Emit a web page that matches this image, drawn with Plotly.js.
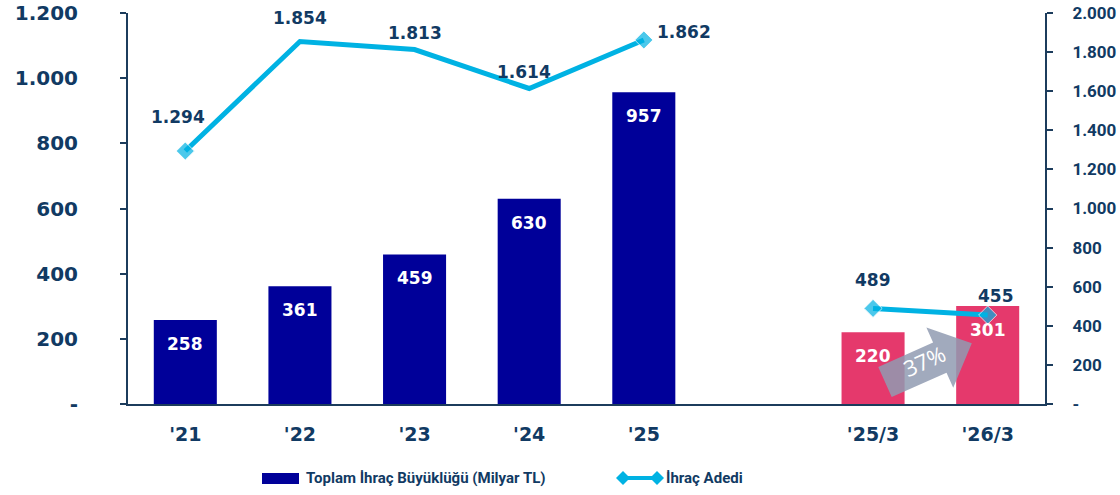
<!DOCTYPE html>
<html>
<head>
<meta charset="utf-8">
<script src="https://cdn.plot.ly/plotly-3.0.1.min.js"></script>
<style>html,body{margin:0;padding:0;background:#fff;}#chart{width:1120px;height:495px;}</style>
</head>
<body>
<div id="chart"></div>
<script>
// ---- data ----
var categories = ["'21", "'22", "'23", "'24", "'25", " ", "'25/3", "'26/3"];
var totalSize = [258, 361, 459, 630, 957, null, 220, 301];      // Toplam İhraç Büyüklüğü (Milyar TL)
var issueCount = [1294, 1854, 1813, 1614, 1862, null, 489, 455]; // İhraç Adedi
var leftTickVals = [0, 200, 400, 600, 800, 1000, 1200];
var leftTickText = ["-", "200", "400", "600", "800", "1.000", "1.200"];
var rightTickVals = [0, 200, 400, 600, 800, 1000, 1200, 1400, 1600, 1800, 2000];
var rightTickText = ["-", "200", "400", "600", "800", "1.000", "1.200", "1.400", "1.600", "1.800", "2.000"];
var growthText = "37%";
var legendNames = ["Toplam İhraç Büyüklüğü (Milyar TL)", "İhraç Adedi"];

// ---- styles ----
var NAVY_TEXT = "#113a63";
var AXIS = "#1c3c5c";
var BAR_NAVY = "#000099";
var BAR_PINK = "#e5396c";
var CYAN = "#00b2e3";
var CAL = "Roboto, 'Noto Sans', sans-serif";
var barColors = [BAR_NAVY, BAR_NAVY, BAR_NAVY, BAR_NAVY, BAR_NAVY, BAR_NAVY, BAR_PINK, BAR_PINK];
var markerSizes = [14, 0, 0, 0, 14, 0, 14, 14];
// label offsets (px) for the line labels: [xshift, yshift]
var lineLabelShift = [[-7, 34], [0, 24], [0, 17], [-5, 16], [40, 8], [0, 0], [0, 28], [8, 19]];

var W = 1120, H = 495;
var M = {l: 128, r: 75, t: 13, b: 91};
var PW = W - M.l - M.r, PH = H - M.t - M.b;
function px(x) { return (x - M.l) / PW; }
function py(y) { return (M.t + PH - y) / PH; }
function fmt(v) { return v >= 1000 ? Math.floor(v / 1000) + "." + String(v % 1000).padStart(3, "0") : String(v); }

var bars = {
  type: "bar", x: categories, y: totalSize, name: legendNames[0],
  marker: {color: barColors}, width: 0.55, yaxis: "y", hoverinfo: "x+y", showlegend: false
};
var line = {
  type: "scatter", mode: "lines+markers", x: categories, y: issueCount, name: legendNames[1],
  yaxis: "y2", connectgaps: false,
  line: {color: CYAN, width: 5},
  marker: {symbol: "diamond", size: markerSizes, color: CYAN}, showlegend: false
};

var annotations = [];
categories.forEach(function (c, i) {
  if (totalSize[i] != null) {
    annotations.push({
      x: c, y: totalSize[i], xref: "x", yref: "y", yanchor: "top", yshift: -12,
      text: String(totalSize[i]), showarrow: false,
      font: {family: "DejaVu Sans, Verdana, sans-serif", size: 17, color: "#ffffff", weight: "bold"}
    });
  }
  if (issueCount[i] != null) {
    annotations.push({
      x: c, y: issueCount[i], xref: "x", yref: "y2", yanchor: "middle",
      xshift: lineLabelShift[i][0], yshift: lineLabelShift[i][1],
      text: fmt(issueCount[i]), showarrow: false,
      font: {family: "DejaVu Sans, Verdana, sans-serif", size: 17, color: NAVY_TEXT, weight: "bold"}
    });
  }
});

// growth arrow (drawn in pixel space, converted to paper coords)
var ang = -24 * Math.PI / 180;
var ux = Math.cos(ang), uy = Math.sin(ang), vx = -uy, vy = ux;
var T = [885, 382];
var local = [[0, -16.5], [60, -16.5], [60, -33], [95, 0], [60, 33], [60, 16.5], [0, 16.5]];
var arrowPath = local.map(function (p, k) {
  var X = T[0] + p[0] * ux + p[1] * vx, Y = T[1] + p[0] * uy + p[1] * vy;
  return (k === 0 ? "M" : "L") + px(X).toFixed(5) + "," + py(Y).toFixed(5);
}).join(" ") + " Z";

var shapes = [{
  type: "path", xref: "paper", yref: "paper", path: arrowPath,
  fillcolor: "rgba(145,155,178,0.85)", line: {width: 0}, layer: "above",
  label: {text: growthText, textangle: -24, textposition: "middle center",
    font: {family: "Open Sans, sans-serif", size: 22, color: "#ffffff"}}
}];

// custom legend
shapes.push({type: "rect", xref: "paper", yref: "paper", x0: px(262), x1: px(299), y0: py(484), y1: py(473),
  fillcolor: BAR_NAVY, line: {width: 0}});
shapes.push({type: "line", xref: "paper", yref: "paper", x0: px(623), x1: px(657), y0: py(478), y1: py(478),
  line: {color: CYAN, width: 4}});
[623, 657].forEach(function (cx) {
  var d = 7;
  shapes.push({type: "path", xref: "paper", yref: "paper",
    path: "M" + px(cx - d) + "," + py(478) + " L" + px(cx) + "," + py(478 - d) + " L" + px(cx + d) + "," + py(478) + " L" + px(cx) + "," + py(478 + d) + " Z",
    fillcolor: CYAN, line: {width: 0}});
});
annotations.push({xref: "paper", yref: "paper", x: px(304), y: py(478), xanchor: "left", yanchor: "middle",
  text: legendNames[0], showarrow: false, font: {family: CAL, size: 15, color: NAVY_TEXT, weight: "bold"}});
annotations.push({xref: "paper", yref: "paper", x: px(664), y: py(478), xanchor: "left", yanchor: "middle",
  text: legendNames[1], showarrow: false, font: {family: CAL, size: 15, color: NAVY_TEXT, weight: "bold"}});

var layout = {
  width: W, height: H, margin: M, paper_bgcolor: "#fff", plot_bgcolor: "#fff",
  showlegend: false, bargap: 0.45,
  xaxis: {
    type: "category", categoryarray: categories, range: [-0.5, 7.5],
    showline: true, linecolor: AXIS, linewidth: 2, ticks: "", showgrid: false, zeroline: false,
    tickfont: {family: "DejaVu Sans, Verdana, sans-serif", size: 19, color: NAVY_TEXT, weight: "bold"},
    ticklabelstandoff: 12, fixedrange: true
  },
  yaxis: {
    range: [0, 1200], tickvals: leftTickVals, ticktext: leftTickText,
    showline: true, linecolor: AXIS, linewidth: 2, ticks: "outside", ticklen: 6, tickwidth: 2, tickcolor: AXIS,
    showgrid: false, zeroline: false, ticklabelstandoff: 38,
    tickfont: {family: "DejaVu Sans, Verdana, sans-serif", size: 20, color: NAVY_TEXT, weight: "bold"}
  },
  yaxis2: {
    range: [0, 2000], tickvals: rightTickVals, ticktext: rightTickText, overlaying: "y", side: "right",
    showline: true, linecolor: AXIS, linewidth: 2, ticks: "outside", ticklen: 6, tickwidth: 2, tickcolor: AXIS,
    showgrid: false, zeroline: false, ticklabelstandoff: 16,
    tickfont: {family: CAL, size: 17, color: NAVY_TEXT, weight: "bold"}
  },
  annotations: annotations, shapes: shapes
};

Plotly.newPlot("chart", [bars, line], layout, {displayModeBar: false, staticPlot: true});
</script>
</body>
</html>
